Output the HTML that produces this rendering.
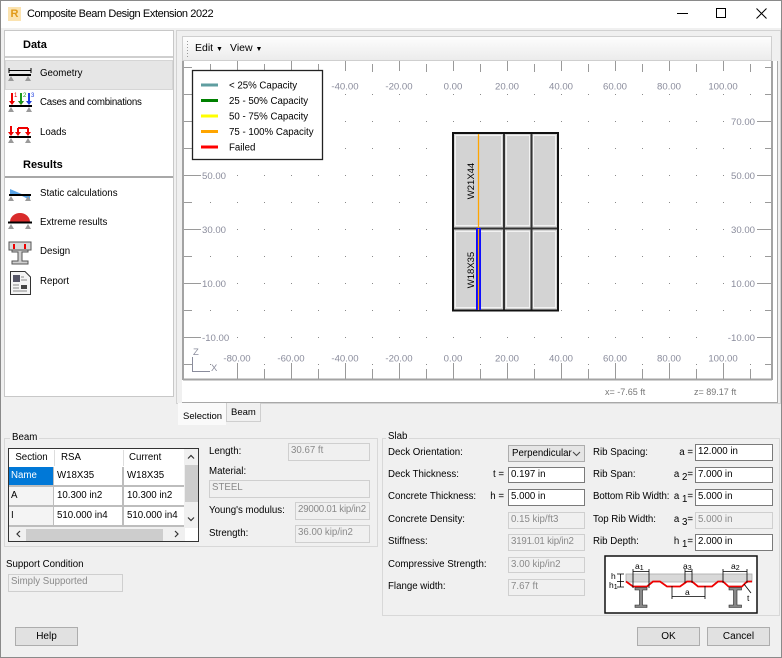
<!DOCTYPE html>
<html><head><meta charset="utf-8"><style>
*{margin:0;padding:0;box-sizing:border-box}
body{width:782px;height:658px;position:relative;background:#f0f0f0;font-family:"Liberation Sans",Arial,sans-serif;font-size:9.7px;color:#000;overflow:hidden}
.a{position:absolute;white-space:nowrap}
.t{position:absolute;white-space:nowrap;line-height:12px;height:12px}
.f{position:absolute;background:#fff;border:1px solid #7a7a7a;padding-left:2px;white-space:nowrap;line-height:14px;font-size:9.7px}
.d{background:#f0f0f0;border-color:#cfcfcf;color:#8a8a8a}
.btn{position:absolute;background:#e1e1e1;border:1px solid #adadad;text-align:center;line-height:17px;font-size:10px}
.cell{position:absolute;line-height:18px;padding-left:3px;white-space:nowrap;background:#fff}
</style></head><body>
<!-- window frame -->
<div class="a" style="left:0;top:0;width:782px;height:658px;border:1px solid #8a8a8a"></div>
<div class="a" style="left:1px;top:1px;width:780px;height:27px;background:#fff"></div>
<div class="a" style="left:8px;top:7px;width:13px;height:14px;background:#fbe3b0;color:#e09a1a;font-weight:bold;font-size:11px;line-height:14px;text-align:center">R</div>
<div class="t" style="left:27px;top:8px;font-size:11px;letter-spacing:-0.4px">Composite Beam Design Extension 2022</div>
<svg class="a" style="left:0;top:0" width="782" height="30">
<path d="M677 13.5H688" stroke="#000" stroke-width="1"/>
<rect x="716.5" y="8.5" width="9" height="9" fill="none" stroke="#000"/>
<path d="M756.5 8.5L766.5 18.5M766.5 8.5L756.5 18.5" stroke="#000"/>
</svg>

<!-- left panel -->
<div class="a" style="left:4px;top:30px;width:170px;height:367px;background:#fff;border:1px solid #c8c8c8"></div>
<div class="t" style="left:23px;top:39px;font-weight:bold;font-size:11px">Data</div>
<div class="a" style="left:5px;top:56px;width:168px;height:2px;background:#cfcfcf"></div>
<div class="a" style="left:5px;top:60px;width:168px;height:30px;background:#e6e6e6;border:1px solid #d6d6d6"></div>
<div class="t" style="left:40px;top:68px">Geometry</div>
<div class="t" style="left:40px;top:97px;letter-spacing:-0.2px">Cases and combinations</div>
<div class="t" style="left:40px;top:127px">Loads</div>
<div class="t" style="left:23px;top:159px;font-weight:bold;font-size:11px">Results</div>
<div class="a" style="left:5px;top:176px;width:168px;height:2px;background:#a8a8a8"></div>
<div class="t" style="left:40px;top:188px">Static calculations</div>
<div class="t" style="left:40px;top:217px">Extreme results</div>
<div class="t" style="left:40px;top:246px">Design</div>
<div class="t" style="left:40px;top:276px">Report</div>
<svg class="a" style="left:0;top:0" width="40" height="300">
<!-- geometry -->
<path d="M9 70.5H31M9 68V73M31 68V73" stroke="#000" stroke-width="1"/>
<path d="M9 75H31" stroke="#000" stroke-width="2"/>
<path d="M11 76L8 81H14ZM28 76L25 81H31Z" fill="#9a9a9a"/>
<!-- cases -->
<path d="M12 93V103M21 93V103M29 93V103" stroke-width="2" stroke="#e00" />
<path d="M21 93V103" stroke-width="2" stroke="#1a9a1a"/><path d="M29 93V103" stroke-width="2" stroke="#2040e0"/>
<path d="M9 101L12 105L15 101ZM18 101L21 105L24 101Z" fill="#e00"/><path d="M18 101L21 105L24 101Z" fill="#1a9a1a"/><path d="M26 101L29 105L32 101Z" fill="#2040e0"/>
<text x="14" y="97" font-size="6" fill="#e00">1</text><text x="23" y="97" font-size="6" fill="#1a9a1a">2</text><text x="31" y="97" font-size="6" fill="#2040e0">3</text>
<path d="M9 106H32" stroke="#000" stroke-width="2"/>
<path d="M11 107L8 112H14ZM29 107L26 112H32Z" fill="#9a9a9a"/>
<!-- loads -->
<path d="M11 126V134M18 128V134M28 128V134M18 128H28" stroke="#e00" stroke-width="2"/>
<path d="M8 132L11 136L14 132ZM15 132L18 136L21 132ZM25 132L28 136L31 132Z" fill="#e00"/>
<path d="M9 137H31" stroke="#000" stroke-width="2"/>
<path d="M11 138L8 143H14ZM28 138L25 143H31Z" fill="#9a9a9a"/>
<!-- static -->
<path d="M10 189L24 195H10Z" fill="#5aa5e8"/><path d="M20 195L30 195L30 200Z" fill="#5aa5e8"/>
<path d="M9 195H31" stroke="#000" stroke-width="2"/>
<path d="M11 196L8 201H14ZM28 196L25 201H31Z" fill="#9a9a9a"/>
<!-- extreme -->
<path d="M10 222A10 9 0 0 1 30 222Z" fill="#d92b2b"/>
<path d="M8 222.5H32" stroke="#000" stroke-width="2"/>
<path d="M11 224L8 229H14ZM28 224L25 229H31Z" fill="#9a9a9a"/>
<!-- design -->
<rect x="9" y="242" width="22" height="8" fill="#d8d8d8" stroke="#555"/>
<path d="M14 244V249M25 244V249" stroke="#e00" stroke-width="2"/>
<path d="M12 250H28V252H22V261H28V264H12V261H18V252H12Z" fill="#cfcfcf" stroke="#555"/>
<!-- report -->
<path d="M10.5 271.5H25L30.5 277V294.5H10.5Z" fill="#f4f4f4" stroke="#333"/>
<rect x="13" y="275" width="7" height="7" fill="#556"/><rect x="21" y="285" width="6" height="4" fill="#444"/>
<path d="M13 285H19M13 288H19M13 291H27M21 277H24M21 280H27" stroke="#888"/>
</svg>

<!-- chart panel -->
<div class="a" style="left:176px;top:30px;width:605px;height:374px;border:1px solid #d2d2d2"></div>
<div class="a" style="left:182px;top:36px;width:590px;height:25px;background:linear-gradient(#fdfdfd,#ececec);border:1px solid #cfcfcf"></div>
<svg class="a" style="left:0;top:0" width="200" height="62"><path d="M187.5 41V57" stroke="#999" stroke-dasharray="1 2"/></svg>
<div class="t" style="left:195px;top:42px;font-size:10.5px">Edit <span style="font-size:7px">▼</span></div>
<div class="t" style="left:230px;top:42px;font-size:10.5px">View <span style="font-size:7px">▼</span></div>
<div class="a" style="left:182px;top:61px;width:596px;height:342px;background:#fff;border-right:1px solid #a8a8a8;border-bottom:1px solid #a8a8a8"></div>

<svg class="a" style="left:0;top:0" width="782" height="410" viewBox="0 0 782 410" font-family="Liberation Sans, Arial, sans-serif">
<defs><pattern id="dp" patternUnits="userSpaceOnUse" x="0" y="0" width="27" height="27"><rect x="21" y="13" width="1" height="1" fill="#8a8a8a"/></pattern></defs>
<rect x="200" y="88" width="562" height="280" fill="url(#dp)"/>
<g stroke="#9a9a9a" stroke-width="1">
<path d="M237.5 61V71M291.5 61V71M345.5 61V71M399.5 61V71M453.5 61V71M507.5 61V71M561.5 61V71M615.5 61V71M669.5 61V71M723.5 61V71"/>
<path d="M210.5 64V72M264.5 64V72M318.5 64V72M372.5 64V72M426.5 64V72M480.5 64V72M534.5 64V72M588.5 64V72M642.5 64V72M696.5 64V72M750.5 64V72"/>
<path d="M237.5 363V379M291.5 363V379M345.5 363V379M399.5 363V379M453.5 363V379M507.5 363V379M561.5 363V379M615.5 363V379M669.5 363V379M723.5 363V379"/>
<path d="M264.5 369V379M318.5 369V379M372.5 369V379M426.5 369V379M480.5 369V379M534.5 369V379M588.5 369V379M642.5 369V379M696.5 369V379M750.5 369V379"/>
<path d="M183 121.5H201M183 175.5H201M183 229.5H201M183 283.5H201M183 337.5H201"/>
<path d="M183 67.5H192M183 94.5H192M183 148.5H192M183 202.5H192M183 256.5H192M183 310.5H192M183 364.5H192"/>
<path d="M757 121.5H772M757 175.5H772M757 229.5H772M757 283.5H772M757 337.5H772"/>
<path d="M765 67.5H772M765 94.5H772M765 148.5H772M765 202.5H772M765 256.5H772M765 310.5H772M765 364.5H772"/>
</g>
<path d="M183 61V380M772 61V380M183 379.5H772" stroke="#a3a3a3" stroke-width="2" fill="none"/>
<g fill="#fff">
<rect x="201" y="169" width="30" height="12"/><rect x="201" y="223" width="30" height="12"/><rect x="201" y="277" width="30" height="12"/><rect x="201" y="331" width="34" height="12"/>
<rect x="725" y="115" width="31" height="12"/><rect x="725" y="169" width="31" height="12"/><rect x="725" y="223" width="31" height="12"/><rect x="725" y="277" width="31" height="12"/><rect x="721" y="331" width="35" height="12"/>
</g>
<g fill="#8a8c9c" font-size="9.6">
<text x="345" y="89.5" text-anchor="middle">-40.00</text><text x="399" y="89.5" text-anchor="middle">-20.00</text><text x="453" y="89.5" text-anchor="middle">0.00</text><text x="507" y="89.5" text-anchor="middle">20.00</text><text x="561" y="89.5" text-anchor="middle">40.00</text><text x="615" y="89.5" text-anchor="middle">60.00</text><text x="669" y="89.5" text-anchor="middle">80.00</text><text x="723" y="89.5" text-anchor="middle">100.00</text>
<text x="237" y="361.5" text-anchor="middle">-80.00</text><text x="291" y="361.5" text-anchor="middle">-60.00</text><text x="345" y="361.5" text-anchor="middle">-40.00</text><text x="399" y="361.5" text-anchor="middle">-20.00</text><text x="453" y="361.5" text-anchor="middle">0.00</text><text x="507" y="361.5" text-anchor="middle">20.00</text><text x="561" y="361.5" text-anchor="middle">40.00</text><text x="615" y="361.5" text-anchor="middle">60.00</text><text x="669" y="361.5" text-anchor="middle">80.00</text><text x="723" y="361.5" text-anchor="middle">100.00</text>
<text x="202" y="179">50.00</text><text x="202" y="233">30.00</text><text x="202" y="287">10.00</text><text x="202" y="341">-10.00</text>
<text x="755" y="125" text-anchor="end">70.00</text><text x="755" y="179" text-anchor="end">50.00</text><text x="755" y="233" text-anchor="end">30.00</text><text x="755" y="287" text-anchor="end">10.00</text><text x="755" y="341" text-anchor="end">-10.00</text>
</g>
<!-- axes indicator -->
<text x="193" y="355" font-size="9.5" fill="#8a8c9c">Z</text>
<path d="M192.5 357V371.5H210" stroke="#8a8c9c" fill="none"/>
<text x="211" y="371" font-size="9.5" fill="#8a8c9c">X</text>
<!-- status -->
<text x="605" y="395" font-size="9" fill="#777">x= -7.65 ft</text>
<text x="694" y="395" font-size="9" fill="#777">z= 89.17 ft</text>
<!-- beams -->
<rect x="453" y="133" width="105" height="177" fill="#d3d3d3"/>
<g fill="none" stroke="#f2f2f2" stroke-width="1">
<rect x="455.5" y="135.5" width="46" height="90"/><rect x="506.5" y="135.5" width="23" height="90"/><rect x="533.5" y="135.5" width="22" height="90"/>
<rect x="455.5" y="231.5" width="46" height="76"/><rect x="506.5" y="231.5" width="23" height="76"/><rect x="533.5" y="231.5" width="22" height="76"/>
</g>
<path d="M453 228.5H558M504 133V310M531.5 133V310" stroke="#333" stroke-width="2"/>
<rect x="453" y="133" width="105" height="177.5" fill="none" stroke="#111" stroke-width="2"/>
<path d="M478.5 134V228" stroke="#ffa500" stroke-width="1.3"/>
<rect x="476" y="228" width="5" height="82" fill="#1010ff"/>
<path d="M478.5 229V310" stroke="#ffa500" stroke-width="1.2"/>
<text transform="translate(474,181) rotate(-90)" text-anchor="middle" font-size="9.5" fill="#000">W21X44</text>
<text transform="translate(474,270) rotate(-90)" text-anchor="middle" font-size="9.5" fill="#000">W18X35</text>
<!-- legend -->
<rect x="192.5" y="70.5" width="130" height="89" fill="#fff" stroke="#222" stroke-width="1.3"/>
<g stroke-width="3">
<path d="M201 85H218" stroke="#5f9ea0"/><path d="M201 100.5H218" stroke="#008000"/><path d="M201 116H218" stroke="#ffff00"/><path d="M201 131.5H218" stroke="#ffa500"/><path d="M201 147H218" stroke="#ff0000"/>
</g>
<g font-size="9.7" fill="#000">
<text x="229" y="88.5">&lt; 25% Capacity</text><text x="229" y="104">25 - 50% Capacity</text><text x="229" y="119.5">50 - 75% Capacity</text><text x="229" y="135">75 - 100% Capacity</text><text x="229" y="150.5">Failed</text>
</g>
</svg>

<!-- tabs -->
<div class="a" style="left:178px;top:403px;width:48px;height:22px;background:#fafafa"></div>
<div class="t" style="left:183px;top:411px;font-size:9.5px">Selection</div>
<div class="a" style="left:226px;top:403px;width:35px;height:19px;border:1px solid #cfcfcf;border-top:none;background:#f0f0f0"></div>
<div class="t" style="left:231px;top:407px;font-size:9.5px">Beam</div>

<!-- Beam group -->
<div class="a" style="left:4px;top:438px;width:374px;height:109px;border:1px solid #d8d8d8"></div>
<div class="t" style="left:10px;top:432px;background:#f0f0f0;padding:0 2px">Beam</div>
<div class="a" style="left:8px;top:448px;width:191px;height:94px;border:1.5px solid #333;background:#fff;overflow:hidden">
  <div class="cell" style="left:0;top:0;width:45px;height:18px;text-align:center;padding:0">Section</div>
  <div class="cell" style="left:45px;top:0;width:69px;height:18px;padding-left:7px">RSA</div>
  <div class="cell" style="left:114px;top:0;width:61px;height:18px;padding-left:6px">Current</div>
  <div class="a" style="left:45px;top:1px;width:1px;height:16px;background:#ddd"></div>
  <div class="a" style="left:114px;top:1px;width:1px;height:16px;background:#ddd"></div>
  <div class="cell" style="left:0;top:18px;width:44px;height:18px;background:#0078d7;color:#fff;padding-left:2px">Name</div>
  <div class="cell" style="left:45px;top:18px;width:68px;height:18px">W18X35</div>
  <div class="cell" style="left:115px;top:18px;width:60px;height:18px">W18X35</div>
  <div class="a" style="left:0;top:36px;width:176px;height:2px;background:#bdbdbd"></div>
  <div class="cell" style="left:0;top:38px;width:44px;height:18px;background:#f4f4f4;padding-left:2px">A</div>
  <div class="cell" style="left:45px;top:38px;width:68px;height:18px">10.300 in2</div>
  <div class="cell" style="left:115px;top:38px;width:60px;height:18px">10.300 in2</div>
  <div class="a" style="left:0;top:56px;width:176px;height:2px;background:#bdbdbd"></div>
  <div class="cell" style="left:0;top:58px;width:44px;height:18px;background:#f4f4f4;padding-left:2px">I</div>
  <div class="cell" style="left:45px;top:58px;width:68px;height:18px">510.000 in4</div>
  <div class="cell" style="left:115px;top:58px;width:60px;height:18px">510.000 in4</div>
  <div class="a" style="left:0;top:76px;width:176px;height:2px;background:#bdbdbd"></div>
  <div class="a" style="left:44px;top:18px;width:1px;height:62px;background:#bdbdbd"></div>
  <div class="a" style="left:113px;top:18px;width:2px;height:62px;background:#bdbdbd"></div>
  <div class="a" style="left:175px;top:0;width:15px;height:79px;background:#f0f0f0"></div>
  <div class="a" style="left:176px;top:16px;width:13px;height:37px;background:#cdcdcd"></div>
  <div class="a" style="left:0;top:78px;width:176px;height:15px;background:#f0f0f0"></div>
  <div class="a" style="left:17px;top:80px;width:137px;height:12px;background:#cdcdcd"></div>
  <svg class="a" style="left:0;top:0" width="191" height="94"><path d="M179 9.5L182 6.5L185 9.5M179 68.5L182 71.5L185 68.5M11 82L8 85L11 88M166 82L169 85L166 88" stroke="#333" fill="none" stroke-width="1.2"/></svg>
</div>
<div class="t" style="left:209px;top:446px">Length:</div>
<div class="f d" style="left:288px;top:443px;width:82px;height:18px">30.67 ft</div>
<div class="t" style="left:209px;top:466px">Material:</div>
<div class="f d" style="left:209px;top:480px;width:161px;height:18px">STEEL</div>
<div class="t" style="left:209px;top:505px">Young's modulus:</div>
<div class="f d" style="left:295px;top:502px;width:75px;height:18px;letter-spacing:-0.2px">29000.01 kip/in2</div>
<div class="t" style="left:209px;top:528px">Strength:</div>
<div class="f d" style="left:295px;top:525px;width:75px;height:18px">36.00 kip/in2</div>
<div class="t" style="left:6px;top:559px">Support Condition</div>
<div class="f d" style="left:8px;top:574px;width:115px;height:18px">Simply Supported</div>

<!-- Slab group -->
<div class="a" style="left:382px;top:438px;width:398px;height:178px;border:1px solid #d8d8d8"></div>
<div class="t" style="left:386px;top:431px;background:#f0f0f0;padding:0 2px">Slab</div>
<div class="t" style="left:388px;top:447px">Deck Orientation:</div>
<div class="t" style="left:388px;top:469px">Deck Thickness:</div>
<div class="t" style="left:388px;top:491px">Concrete Thickness:</div>
<div class="t" style="left:388px;top:514px">Concrete Density:</div>
<div class="t" style="left:388px;top:536px">Stiffness:</div>
<div class="t" style="left:388px;top:559px">Compressive Strength:</div>
<div class="t" style="left:388px;top:581px">Flange width:</div>
<div class="a" style="left:508px;top:445px;width:77px;height:17px;background:#e5e5e5;border:1px solid #adadad;line-height:15px;padding-left:3px">Perpendicular</div>
<svg class="a" style="left:572px;top:450px" width="10" height="8"><path d="M1 2L4.5 5.5L8 2" stroke="#444" fill="none"/></svg>
<div class="t" style="right:278px;top:469px">t =</div>
<div class="f" style="left:508px;top:467px;width:77px;height:16px">0.197 in</div>
<div class="t" style="right:278px;top:491px">h =</div>
<div class="f" style="left:508px;top:489px;width:77px;height:17px">5.000 in</div>
<div class="f d" style="left:508px;top:512px;width:77px;height:17px">0.15 kip/ft3</div>
<div class="f d" style="left:508px;top:534px;width:77px;height:17px;letter-spacing:-0.2px">3191.01 kip/in2</div>
<div class="f d" style="left:508px;top:557px;width:77px;height:16px">3.00 kip/in2</div>
<div class="f d" style="left:508px;top:579px;width:77px;height:17px">7.67 ft</div>
<div class="t" style="left:593px;top:447px">Rib Spacing:</div>
<div class="t" style="left:593px;top:469px">Rib Span:</div>
<div class="t" style="left:593px;top:491px;letter-spacing:-0.1px">Bottom Rib Width:</div>
<div class="t" style="left:593px;top:514px">Top Rib Width:</div>
<div class="t" style="left:593px;top:536px">Rib Depth:</div>
<div class="t" style="right:89px;top:447px">a =</div>
<div class="t" style="right:89px;top:469px">a <span style="position:relative;top:3px">2</span>=</div>
<div class="t" style="right:89px;top:491px">a <span style="position:relative;top:3px">1</span>=</div>
<div class="t" style="right:89px;top:514px">a <span style="position:relative;top:3px">3</span>=</div>
<div class="t" style="right:89px;top:536px">h <span style="position:relative;top:3px">1</span>=</div>
<div class="f" style="left:695px;top:444px;width:78px;height:17px">12.000 in</div>
<div class="f" style="left:695px;top:467px;width:78px;height:16px">7.000 in</div>
<div class="f" style="left:695px;top:489px;width:78px;height:17px">5.000 in</div>
<div class="f d" style="left:695px;top:512px;width:78px;height:17px">5.000 in</div>
<div class="f" style="left:695px;top:534px;width:78px;height:17px">2.000 in</div>

<!-- deck diagram -->
<svg class="a" style="left:0;top:0" width="782" height="658" font-family="Liberation Sans, Arial, sans-serif">
<rect x="605" y="556" width="152" height="57" fill="#fff" stroke="#111" stroke-width="1.5"/>
<rect x="626" y="574" width="126" height="8" fill="#d8d8d8" stroke="#aaa" stroke-width="0.8"/>
<path d="M626 581.5L633 586.5H647L653 581.5H660L667 586.5H680L687 581.5H692L698 586.5H712L718 581.5H723L728.5 586.5H742L747 581.5H752" stroke="#e00" stroke-width="1.8" fill="none"/>
<g fill="#888" stroke="#222" stroke-width="0.6">
<path d="M635 587.5H647V590H642.5V605H647V607.5H635V605H639.5V590H635Z"/>
<path d="M729 587.5H741.5V590H737V605H741.5V607.5H729V605H733.5V590H729Z"/>
</g>
<g stroke="#000" stroke-width="0.8" fill="none">
<path d="M633 571.5H649M633 569V588M649 569V588"/>
<path d="M685 571.5H692M685 569V583M692 569V583"/>
<path d="M723 571.5H747M723 569V583M747 569V583"/>
<path d="M620.5 574V587M617 574H624M617 581.5H624M617 587H624"/>
<path d="M672 596.5H705M672 586V599M705 586V599"/>
<path d="M744 584L751 593"/>
</g>
<g font-size="8.5" fill="#000">
<text x="635" y="569">a<tspan font-size="7" dy="1">1</tspan></text>
<text x="683" y="569">a<tspan font-size="7" dy="1">3</tspan></text>
<text x="731" y="569">a<tspan font-size="7" dy="1">2</tspan></text>
<text x="611" y="579">h</text>
<text x="609" y="588">h<tspan font-size="7" dy="1">1</tspan></text>
<text x="685" y="595">a</text>
<text x="747" y="601">t</text>
</g>
</svg>

<!-- buttons -->
<div class="btn" style="left:15px;top:627px;width:63px;height:19px">Help</div>
<div class="btn" style="left:637px;top:627px;width:63px;height:19px">OK</div>
<div class="btn" style="left:707px;top:627px;width:63px;height:19px">Cancel</div>
</body></html>
